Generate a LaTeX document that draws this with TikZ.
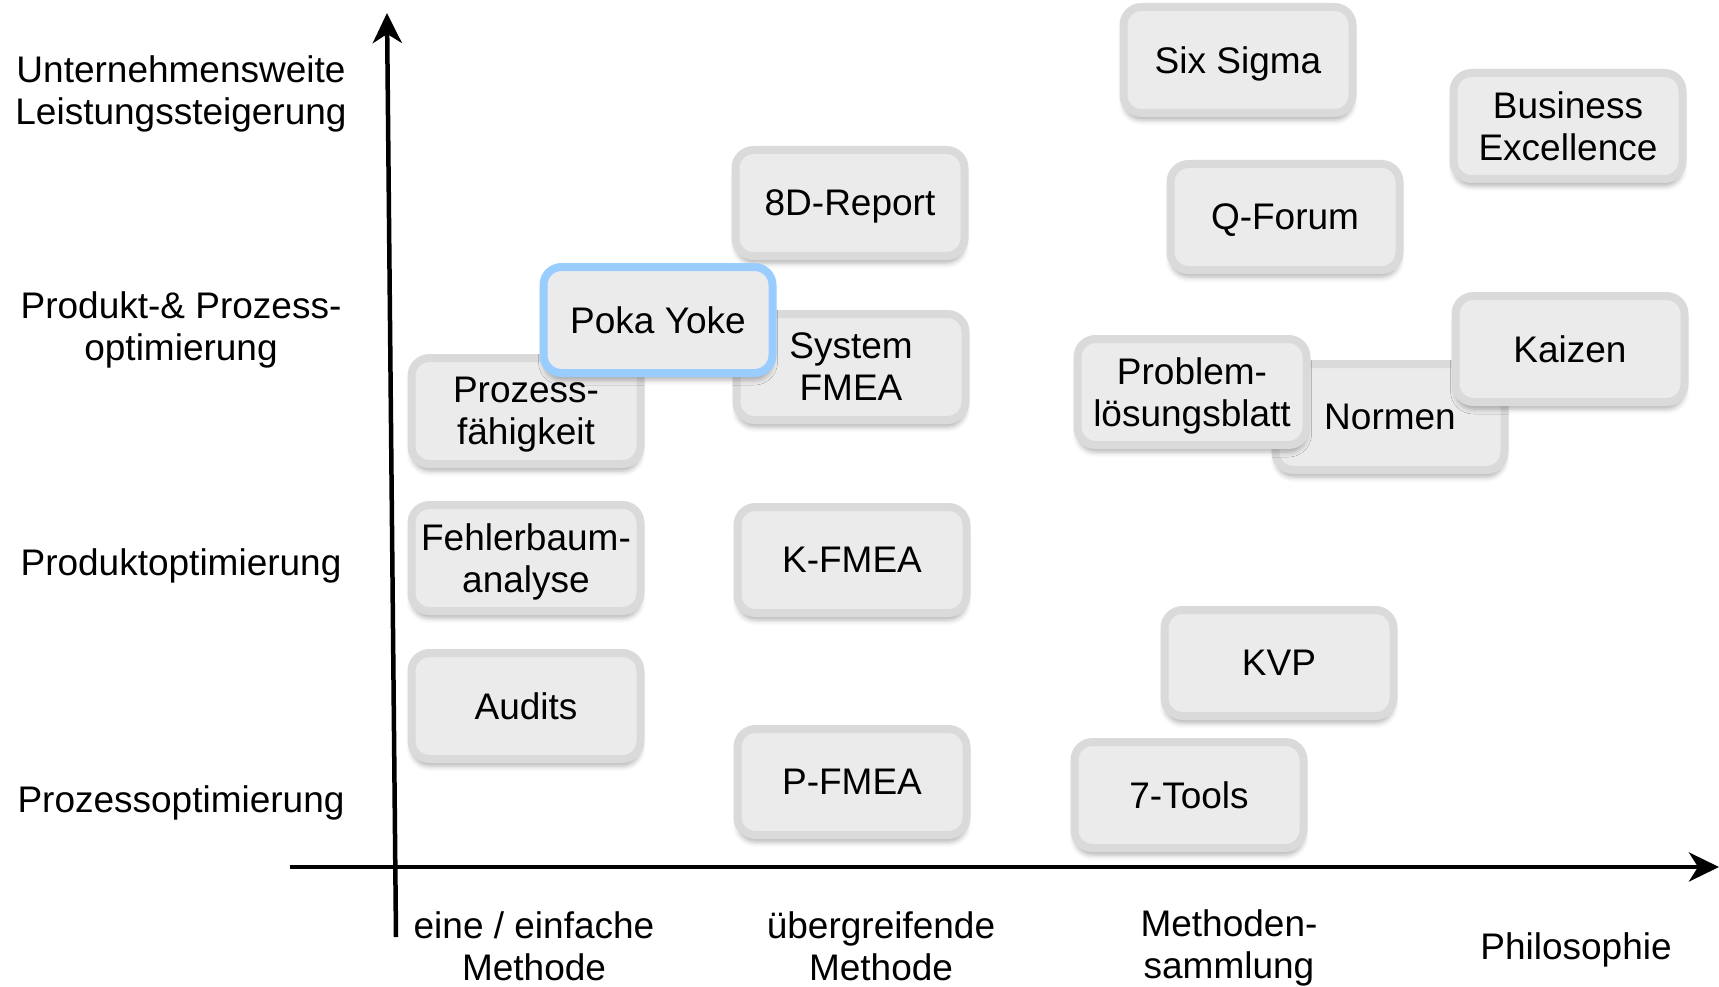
\documentclass[tikz,border=0pt]{standalone}
\usepackage{fontspec}
\setmainfont{Liberation Sans}
\usetikzlibrary{arrows.meta,shadows.blur}
\definecolor{boxfill}{HTML}{EBEBEB}
\definecolor{boxline}{HTML}{DADADA}
\definecolor{pokaline}{HTML}{99CCFF}
\begin{document}
\begin{tikzpicture}[x=1pt,y=-1pt,
  qbox/.style={draw=boxline, fill=boxfill, line width=8pt, rounded corners=18pt,
    minimum width=229pt, minimum height=106pt, align=center, inner sep=0pt,
    text depth=0pt,
    font=\fontsize{37}{42}\selectfont,
    blur shadow={shadow xshift=0pt, shadow yshift=-7pt, shadow blur radius=5pt, shadow opacity=30}},
  hl/.style={qbox, draw=pokaline},
  lab/.style={align=center, font=\fontsize{37}{42.5}\selectfont, inner sep=0pt, text depth=0pt},
  axis/.style={line width=4.5pt, -{Stealth[length=30pt,width=29pt,inset=9pt]}}
]
\useasboundingbox (0,0) rectangle (1719,987);

% axes
\coordinate (vb) at (396,937);
\coordinate (vt) at (387,13);
\coordinate (hl0) at (290,867);
\coordinate (hr) at (1719,867);
\draw[axis] (hl0) -- (hr);
\draw[axis] (vb) -- (vt);

% left labels
\node[lab] (l1) at (181,90) {Unternehmensweite\\Leistungssteigerung};
\node[lab] (l2) at (181,326) {Produkt-\& Prozess-\\optimierung};
\node[lab] (l3) at (181,562) {Produktoptimierung};
\node[lab] (l4) at (181,799) {Prozessoptimierung};

% bottom labels
\node[lab] (b1) at (534,946) {eine / einfache\\Methode};
\node[lab] (b2) at (881,946) {übergreifende\\Methode};
\node[lab] (b3) at (1229,944) {Methoden-\\sammlung};
\node[lab] (b4) at (1576,946) {Philosophie};

% boxes
\node[qbox] (six) at (1238,60) {Six Sigma};
\node[qbox] (be) at (1568,126) {Business\\Excellence};
\node[qbox] (d8) at (850,203) {8D-Report};
\node[qbox] (qf) at (1285,217) {Q-Forum};
\node[qbox] (sf) at (851,367) {System\\FMEA};
\node[qbox] (pf) at (526,411) {Prozess-\\fähigkeit};
\node[hl] (py) at (658,320) {Poka Yoke};
\node[qbox] (no) at (1390,417) {Normen};
\node[qbox] (pl) at (1192,392) {Problem-\\lösungsblatt};
\node[qbox] (ka) at (1570,349) {Kaizen};
\node[qbox] (fb) at (526,558) {Fehlerbaum-\\analyse};
\node[qbox] (kf) at (852,560) {K-FMEA};
\node[qbox] (kvp) at (1279,663) {KVP};
\node[qbox] (au) at (526,706) {Audits};
\node[qbox] (pfm) at (852,782) {P-FMEA};
\node[qbox] (st) at (1189,795) {7-Tools};
\end{tikzpicture}
\end{document}
